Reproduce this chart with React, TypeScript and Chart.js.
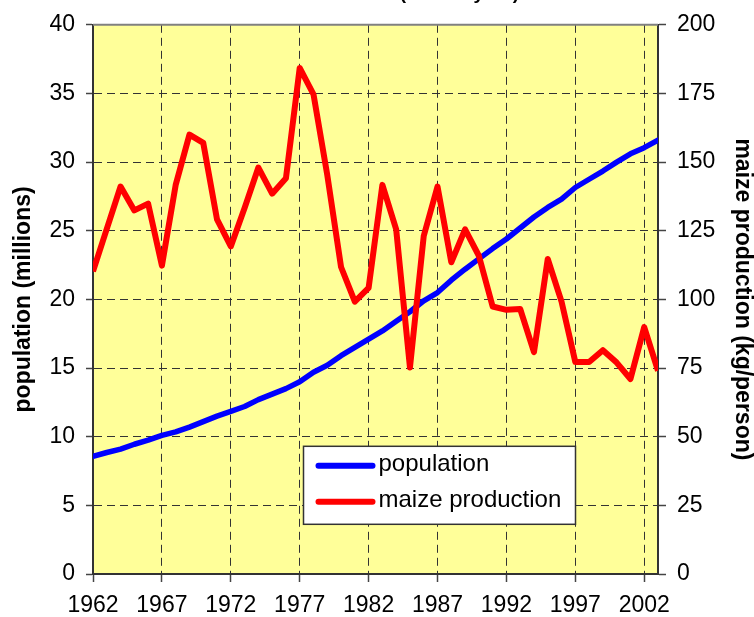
import React, { useEffect, useRef } from "react";
import { Chart, registerables } from "chart.js";

Chart.register(...registerables);

// ---------- data ----------
const years = [
  1962, 1963, 1964, 1965, 1966, 1967, 1968, 1969, 1970, 1971,
  1972, 1973, 1974, 1975, 1976, 1977, 1978, 1979, 1980, 1981,
  1982, 1983, 1984, 1985, 1986, 1987, 1988, 1989, 1990, 1991,
  1992, 1993, 1994, 1995, 1996, 1997, 1998, 1999, 2000, 2001,
  2002, 2003,
];

// population (millions), left axis
const population = [
  8.56, 8.85, 9.1, 9.45, 9.75, 10.1, 10.35, 10.7, 11.1, 11.5,
  11.85, 12.2, 12.7, 13.1, 13.5, 14.0, 14.7, 15.2, 15.9, 16.5,
  17.1, 17.7, 18.4, 19.1, 19.9, 20.5, 21.4, 22.2, 22.95, 23.7,
  24.4, 25.2, 26.0, 26.7, 27.3, 28.15, 28.75, 29.35, 30.0, 30.6,
  31.05, 31.6,
];

// maize production (kg/person), right axis
const maizeProduction = [
  110.2, 125.7, 141.1, 132.4, 134.9, 112.3, 141.7, 160.0, 157.0, 129.1,
  119.3, 133.3, 148.0, 138.5, 144.1, 184.3, 174.7, 145.3, 111.8, 99.2,
  104.2, 141.7, 125.5, 75.2, 123.1, 141.1, 113.5, 125.5, 115.9, 97.4,
  96.2, 96.5, 80.8, 114.7, 99.2, 77.2, 77.2, 81.5, 77.0, 71.0,
  89.9, 74.0,
];

const xTickYears = [1962, 1967, 1972, 1977, 1982, 1987, 1992, 1997, 2002];

const seriesNames = ["population", "maize production"];
const leftAxisTitle = "population (millions)";
const rightAxisTitle = "maize production (kg/person)";
const titleLines = ["Malawi: population and maize production", "(tonnes/year)"];

const FONT = "Arial, 'Liberation Sans', Helvetica, sans-serif";
const BLUE = "#0000FF";
const RED = "#FF0000";

export default function App() {
  const canvasRef = useRef<HTMLCanvasElement>(null);

  useEffect(() => {
    const canvas = canvasRef.current;
    if (!canvas) return;

    const decorPlugin = {
      id: "decor",
      beforeDraw(chart: any) {
        const { ctx, chartArea: a } = chart;
        ctx.save();
        ctx.fillStyle = "#FFFF99";
        ctx.fillRect(a.left, a.top, a.right - a.left, a.bottom - a.top);
        ctx.restore();
      },
      afterDatasetsDraw(chart: any) {
        const { ctx, chartArea: a } = chart;
        ctx.save();
        // top frame line
        ctx.strokeStyle = "#808080";
        ctx.lineWidth = 2;
        ctx.beginPath();
        ctx.moveTo(a.left, a.top);
        ctx.lineTo(a.right, a.top);
        ctx.stroke();

        // legend
        const bx = a.left + 210.5;
        const by = a.top + 421.5;
        const bw = 272;
        const bh = 78;
        ctx.fillStyle = "#FFFFFF";
        ctx.fillRect(bx, by, bw, bh);
        ctx.strokeStyle = "#333333";
        ctx.lineWidth = 1.5;
        ctx.strokeRect(bx, by, bw, bh);
        const colors = [BLUE, RED];
        const rows = [by + 19.5, by + 55.5];
        ctx.lineCap = "round";
        ctx.font = `24px ${FONT}`;
        ctx.textBaseline = "middle";
        ctx.textAlign = "left";
        seriesNames.forEach((name, i) => {
          ctx.strokeStyle = colors[i];
          ctx.lineWidth = 6;
          ctx.beginPath();
          ctx.moveTo(bx + 15, rows[i]);
          ctx.lineTo(bx + 69, rows[i]);
          ctx.stroke();
          ctx.fillStyle = "#000000";
          ctx.fillText(name, bx + 75, rows[i] - 1);
        });
        ctx.restore();
      },
      afterDraw(chart: any) {
        const { ctx } = chart;
        ctx.save();
        ctx.font = `bold 19px ${FONT}`;
        ctx.fillStyle = "#000000";
        ctx.textAlign = "right";
        ctx.textBaseline = "alphabetic";
        ctx.fillText(titleLines[1], 519, -1);
        ctx.fillText(titleLines[0], 519, -24);
        ctx.restore();
      },
    };

    const chart = new Chart(canvas, {
      type: "line",
      data: {
        datasets: [
          {
            label: seriesNames[0],
            data: years.map((y, i) => ({ x: y, y: population[i] })),
            borderColor: BLUE,
            backgroundColor: BLUE,
            borderWidth: 5.5,
            pointRadius: 0,
            tension: 0,
            borderJoinStyle: "round",
            borderCapStyle: "round",
            yAxisID: "y",
            order: 2,
          },
          {
            label: seriesNames[1],
            data: years.map((y, i) => ({ x: y, y: maizeProduction[i] })),
            borderColor: RED,
            backgroundColor: RED,
            borderWidth: 6,
            pointRadius: 0,
            tension: 0,
            borderJoinStyle: "round",
            borderCapStyle: "butt",
            yAxisID: "y1",
            order: 1,
          },
        ],
      },
      options: {
        animation: false,
        responsive: false,
        devicePixelRatio: 1,
        layout: { padding: { top: 18, left: 0, right: 0, bottom: 0 } },
        plugins: {
          legend: { display: false },
          tooltip: { enabled: false },
          title: { display: false },
        },
        scales: {
          x: {
            type: "linear",
            min: 1962,
            max: 2003,
            afterBuildTicks: (s: any) => {
              s.ticks = xTickYears.map((v) => ({ value: v }));
            },
            afterFit: (s: any) => {
              s.height = 43;
            },
            ticks: {
              font: { family: FONT, size: 23 },
              color: "#000000",
              padding: 10,
              maxRotation: 0,
              autoSkip: false,
              callback: (v: any) => String(v),
            },
            grid: {
              color: "#333333",
              lineWidth: 1,
              borderDash: [8, 5],
              drawTicks: true,
              tickLength: 8,
              tickColor: "#444444",
              tickWidth: 1.5,
              tickBorderDash: [],
            },
            border: { display: true, color: "#333333", width: 2, dash: [8, 5] },
          },
          y: {
            type: "linear",
            position: "left",
            min: 0,
            max: 40,
            afterFit: (s: any) => {
              s.width = 93;
            },
            ticks: {
              stepSize: 5,
              font: { family: FONT, size: 23 },
              color: "#000000",
              padding: 11,
            },
            grid: {
              color: "#333333",
              lineWidth: 1,
              borderDash: [8, 5],
              drawTicks: true,
              tickLength: 7,
              tickColor: "#444444",
              tickWidth: 1.5,
              tickBorderDash: [],
            },
            border: { display: true, color: "#333333", width: 2, dash: [8, 5] },
            title: {
              display: true,
              text: leftAxisTitle,
              font: { family: FONT, size: 23, weight: "bold", lineHeight: 1.2 },
              color: "#000000",
              padding: { top: 10, bottom: 0 },
            },
          },
          y1: {
            type: "linear",
            position: "right",
            min: 0,
            max: 200,
            afterFit: (s: any) => {
              s.width = 96;
            },
            ticks: {
              stepSize: 25,
              font: { family: FONT, size: 23 },
              color: "#000000",
              padding: 11,
            },
            grid: {
              drawOnChartArea: false,
              drawTicks: true,
              tickLength: 8,
              tickColor: "#444444",
              tickWidth: 1.5,
              tickBorderDash: [],
            },
            border: { display: true, color: "#333333", width: 2 },
            title: {
              display: true,
              text: rightAxisTitle,
              font: { family: FONT, size: 23, weight: "bold", lineHeight: 1.0 },
              color: "#000000",
              padding: { top: 0.5, bottom: 0 },
            },
          },
        },
      },
      plugins: [decorPlugin],
    } as any);

    return () => chart.destroy();
  }, []);

  return (
    <div style={{ position: "fixed", left: 0, top: 0, width: 754, height: 617, background: "#FFFFFF" }}>
      <canvas ref={canvasRef} width={754} height={617} style={{ display: "block", width: 754, height: 617 }} />
    </div>
  );
}
